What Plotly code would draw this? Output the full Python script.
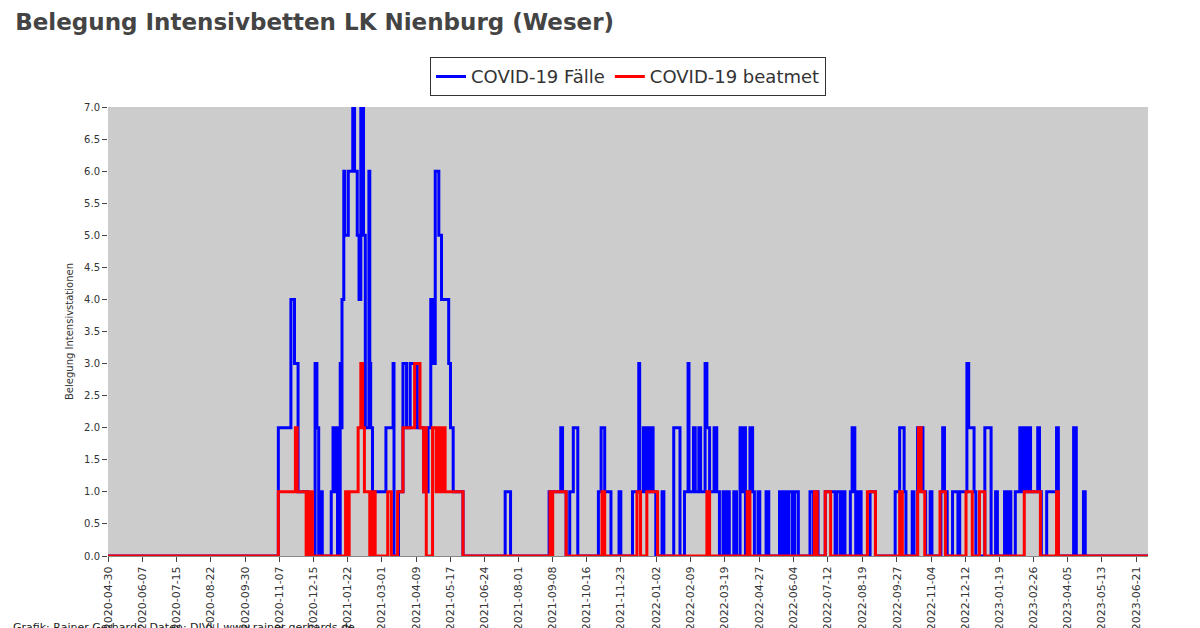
import pandas as pd
import plotly.graph_objects as go

START = pd.Timestamp("2020-04-30")
END_DAY = 1160

# change points: (days since 2020-04-30, value)
faelle = [(0,0),(190,2),(204,4),(208,3),(212,1),(223,0),(231,3),(233,2),(235,0),(236,1),(239,0),
    (249,1),(251,2),(253,1),(254,2),(256,0),(259,3),(260,2),(261,4),(263,6),(264,5),(268,6),(273,7),
    (275,6),(278,5),(280,4),(282,7),(285,5),(287,2),(291,6),(292,3),(293,2),(295,1),(310,2),(318,3),
    (319,0),(324,1),(329,3),(333,2),(337,3),(345,2),(352,1),(357,2),(360,4),(362,3),(365,6),(369,5),
    (372,4),(380,3),(382,2),(385,1),(396,0),
    (443,1),(449,0),(492,1),(505,2),(507,1),(511,0),(515,1),(519,2),(524,0),(547,1),(550,2),(554,1),
    (561,0),(570,1),(572,0),(585,1),(592,3),(593,1),(597,2),(600,1),(602,2),(604,1),(606,2),(608,1),
    (611,0),(618,1),(620,0),(631,2),(638,0),(643,1),(647,3),(648,1),(653,2),(655,1),(659,2),(661,1),
    (666,3),(668,2),(671,1),(676,2),(679,1),(682,0),(686,1),(688,0),(691,1),(693,0),(698,1),(701,0),
    (705,2),(707,1),(709,2),(711,0),(714,1),(716,2),(719,1),(721,0),(725,1),(727,0),(734,1),(737,0),
    (749,1),(752,0),(754,1),(757,0),(759,1),(763,0),(766,1),(770,0),(783,1),(787,0),(788,1),(792,0),
    (800,1),(811,0),(813,1),(817,0),(819,1),(822,0),(828,1),(830,2),(833,1),(834,0),(837,1),(840,0),
    (850,1),(856,0),(878,1),(883,2),(888,1),(890,0),(897,1),(899,0),(903,2),(909,1),(912,0),(917,1),
    (919,0),(929,1),(931,2),(933,1),(936,0),(942,1),(948,0),(950,1),(958,3),(960,2),(966,1),(968,0),
    (978,2),(985,0),(990,1),(992,0),(1000,1),(1002,0),(1005,1),(1007,0),(1012,1),(1017,2),(1019,1),
    (1021,2),(1024,1),(1027,2),(1029,1),(1037,2),(1039,1),(1041,0),(1047,1),(1058,2),(1060,0),
    (1077,2),(1080,0),(1088,1),(1090,0)]

beatmet = [(0,0),(190,1),(209,2),(211,1),(221,0),(223,1),(225,0),(226,1),(228,0),
    (265,1),(268,0),(269,1),(279,2),(282,3),(284,2),(286,1),(292,0),(295,1),(298,0),(312,1),(316,0),
    (323,1),(329,2),(342,3),(348,2),(352,1),(354,2),(355,0),(362,2),(366,1),(368,2),(371,1),(373,2),
    (376,1),(396,0),
    (493,1),(495,0),(496,1),(511,0),(551,1),(554,0),(590,1),(594,0),(601,1),(613,0),(668,1),(671,0),
    (713,1),(716,0),(788,1),(791,0),(800,1),(806,0),(847,1),(856,0),(883,1),(886,0),(903,1),(904,2),
    (907,1),(911,0),(928,1),(934,0),(957,1),(964,0),(972,1),(978,0),(1022,1),(1040,0),(1058,1),(1060,0)]

tick_labels = ["2020-04-30","2020-06-07","2020-07-15","2020-08-22","2020-09-30","2020-11-07",
    "2020-12-15","2021-01-22","2021-03-01","2021-04-09","2021-05-17","2021-06-24","2021-08-01",
    "2021-09-08","2021-10-16","2021-11-23","2022-01-02","2022-02-09","2022-03-19","2022-04-27",
    "2022-06-04","2022-07-12","2022-08-19","2022-09-27","2022-11-04","2022-12-12","2023-01-19",
    "2023-02-26","2023-04-05","2023-05-13","2023-06-21"]


def to_xy(points):
    pts = points + [(END_DAY, points[-1][1])]
    x = [START + pd.Timedelta(days=d) for d, _ in pts]
    y = [v for _, v in pts]
    return x, y


fig = go.Figure()
for name, pts, col in [("COVID-19 Fälle", faelle, "#0000ff"), ("COVID-19 beatmet", beatmet, "#ff0000")]:
    x, y = to_xy(pts)
    fig.add_trace(go.Scatter(x=x, y=y, mode="lines", name=name, line_shape="hv",
                             line=dict(color=col, width=3)))

fig.update_layout(
    width=1200, height=628,
    paper_bgcolor="white", plot_bgcolor="#cccccc",
    margin=dict(l=100, r=60, t=99, b=80, autoexpand=False),
    font=dict(family="DejaVu Sans", color="#333"),
    title=dict(text="<b>Belegung Intensivbetten LK Nienburg (Weser)</b>", x=0.006, y=0.99,
               xanchor="left", yanchor="top", font=dict(size=23, color="#444")),
    legend=dict(orientation="h", x=0.5, xanchor="center", y=1.024, yanchor="bottom",
                bordercolor="#333", borderwidth=1, bgcolor="white", font=dict(size=18)),
    showlegend=True,
)
fig.update_xaxes(range=[START, START + pd.Timedelta(days=END_DAY)], automargin=False,
                 tickvals=[pd.Timestamp(t) for t in tick_labels], ticktext=tick_labels,
                 tickangle=-90, tickfont=dict(size=11), showgrid=False, ticks="outside",
                 linecolor="#888", showline=True)
fig.update_yaxes(range=[0, 7], dtick=0.5, tickformat=".1f", tickfont=dict(size=10), automargin=False,
                 showgrid=False, zeroline=False, ticks="outside",
                 title=dict(text="Belegung Intensivstationen", font=dict(size=10), standoff=8))
fig.add_annotation(text="Grafik: Rainer Gerhards, Daten: DIVI | www.rainer-gerhards.de",
                   xref="paper", yref="paper", x=-0.093, y=-0.16, xanchor="left", yanchor="middle",
                   showarrow=False, font=dict(size=11, color="#222"))

fig.write_html("out.html")
